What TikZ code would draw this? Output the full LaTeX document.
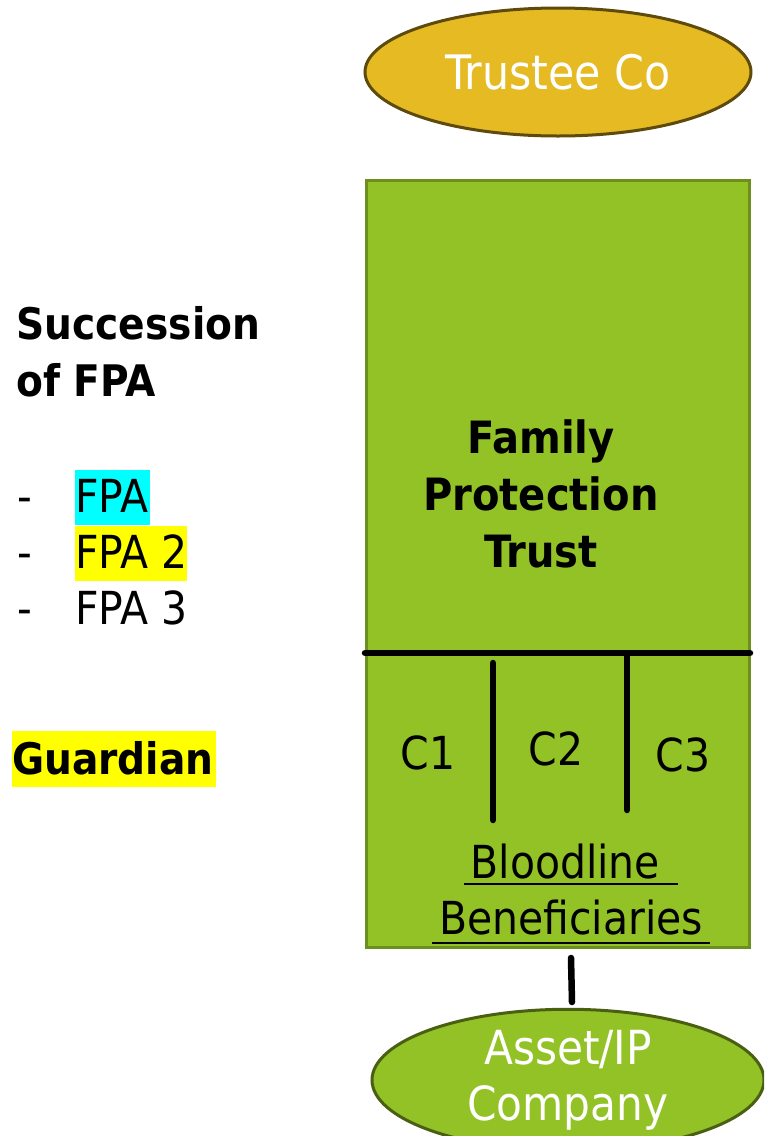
\documentclass[tikz,border=0pt]{standalone}
\usepackage{fontspec}
\setmainfont{DejaVu Sans Condensed}
\usetikzlibrary{shapes.geometric}
\definecolor{trustfill}{HTML}{E5BA22}
\definecolor{trustedge}{HTML}{5E4A0B}
\definecolor{leaf}{HTML}{92C226}
\definecolor{leafedge}{HTML}{6C8F1D}
\definecolor{assetedge}{HTML}{4B5F13}
\definecolor{hlcyan}{HTML}{00FFFF}
\definecolor{hlyellow}{HTML}{FFFF00}
\tikzset{
  big/.style={font=\fontsize{45.5}{52}\selectfont},
  bigb/.style={font=\fontsize{43.5}{57}\selectfont\bfseries},
  oval/.style={ellipse, minimum width=386pt, minimum height=128pt, inner sep=0pt, line width=3pt},
  divider/.style={line width=6.5pt, line cap=round},
  hl/.style={inner sep=0pt, anchor=west, text height=31pt, text depth=0pt}
}
\newcommand{\hlbox}[2]{\makebox[#1][l]{#2}}
\begin{document}
\begin{tikzpicture}[x=1pt,y=-1pt]
\useasboundingbox (0,0) rectangle (764,1136);
\clip (0,0) rectangle (764,1136);

% Trustee company
\node[oval, draw=trustedge, fill=trustfill, text=white,
      font=\fontsize{47.5}{52}\selectfont] (trustee) at (558,72) {Trustee Co};

% Family Protection Trust box
\node[draw=leafedge, fill=leaf, line width=3pt, minimum width=383pt,
      minimum height=767pt, inner sep=0pt] (fpt) at (558,564) {};
\node[bigb, font=\fontsize{44.5}{57}\selectfont\bfseries, align=center]
      (fpttxt) at (541,494) {Family\\Protection\\Trust};

% Dividers
\coordinate (hl) at (365,653);
\coordinate (hr) at (750,653);
\draw[divider] (hl) -- (hr);
\coordinate (v1t) at (493,663);
\coordinate (v1b) at (493,820);
\coordinate (v2t) at (627,656);
\coordinate (v2b) at (627,810);
\draw[divider] (v1t) -- (v1b);
\draw[divider] (v2t) -- (v2b);

\node[big] (c1) at (428,753) {C1};
\node[big] (c2) at (556,749) {C2};
\node[big] (c3) at (683,755) {C3};

\node[big] (blood) at (571,862) {Bloodline\phantom{l}};
\node[big] (benef) at (571,918) {Beneficiaries};
\draw[line width=2pt] (464,884) -- (678,884);
\draw[line width=2pt] (432,943) -- (710,943);

% Asset / IP company
\node[oval, draw=assetedge, fill=leaf, text=white, minimum width=392pt,
      align=center, font=\fontsize{47}{56}\selectfont] (asset) at (568,1080)
      {Asset/IP\\Company};
\coordinate (lk1) at (571,958);
\coordinate (lk2) at (572,1002);
\draw[divider] (lk1) -- (lk2);

% Side notes
\node[bigb, anchor=west, align=left] (succ) at (13,352) {Succession\\of FPA};
\node[hl, big] (d1) at (17,497) {-};
\node[hl, big] (d2) at (17,553) {-};
\node[hl, big] (d3) at (17,609) {-};
\node[hl, fill=hlcyan, big, minimum height=55pt] (f1) at (75,497) {\hlbox{75pt}{FPA}};
\node[hl, fill=hlyellow, big, minimum height=55pt] (f2) at (75,553) {\hlbox{112pt}{FPA 2}};
\node[hl, big] (f3) at (75,609) {FPA 3};
\node[hl, fill=hlyellow, bigb, minimum height=56pt] (guard) at (12,759) {\hlbox{204pt}{Guardian}};
\end{tikzpicture}
\end{document}
